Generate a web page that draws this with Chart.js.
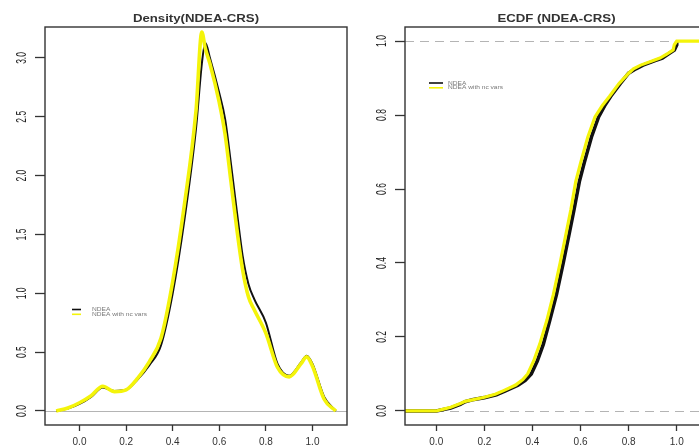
<!DOCTYPE html>
<html>
<head>
<meta charset="utf-8">
<script src="https://cdn.jsdelivr.net/npm/chart.js@4.4.1/dist/chart.umd.min.js"></script>
<style>
  html, body { margin: 0; padding: 0; background: #fff; overflow: hidden; width: 699px; height: 447px; }
  .panel { position: absolute; top: 0; height: 447px; }
  #densBox { left: 0; width: 350px; }
  #ecdfBox { left: 350px; width: 370px; }
</style>
</head>
<body>
<div class="panel" id="densBox"><canvas id="densChart"></canvas></div>
<div class="panel" id="ecdfBox"><canvas id="ecdfChart"></canvas></div>
<script>
/* =========================
   DATA
========================= */
const xTicks = [0, 0.2, 0.4, 0.6, 0.8, 1.0];
const densTicksY = [0, 0.5, 1.0, 1.5, 2.0, 2.5, 3.0];
const ecdfTicksY = [0, 0.2, 0.4, 0.6, 0.8, 1.0];

// density curves on a shared grid
const densX      = [-0.1, -0.05, 0, 0.05, 0.1, 0.15, 0.2, 0.25, 0.3, 0.35, 0.4, 0.45, 0.5, 0.525, 0.54, 0.56, 0.6, 0.625, 0.65, 0.675, 0.7, 0.725, 0.75, 0.8, 0.85, 0.9, 0.95, 0.975, 1.0, 1.05, 1.1];
const densNdea   = [0, 0.02, 0.06, 0.12, 0.2, 0.17, 0.18, 0.27, 0.39, 0.56, 1.0, 1.62, 2.4, 2.95, 3.13, 3.0, 2.7, 2.48, 2.1, 1.7, 1.32, 1.08, 0.95, 0.75, 0.4, 0.3, 0.41, 0.47, 0.4, 0.12, 0];
const densNcVars = [0, 0.025, 0.07, 0.13, 0.21, 0.165, 0.18, 0.28, 0.42, 0.62, 1.1, 1.75, 2.55, 3.22, 3.08, 2.95, 2.62, 2.35, 1.95, 1.55, 1.2, 0.97, 0.86, 0.66, 0.37, 0.29, 0.4, 0.46, 0.38, 0.1, 0];

// empirical CDFs
const ecdfNdeaX   = [-0.13, 0, 0.03, 0.06, 0.1, 0.12, 0.15, 0.2, 0.25, 0.29, 0.34, 0.37, 0.395, 0.42, 0.445, 0.472, 0.5, 0.528, 0.553, 0.573, 0.595, 0.615, 0.645, 0.675, 0.7, 0.725, 0.765, 0.8, 0.83, 0.86, 0.91, 0.94, 0.965, 0.99, 1.0, 1.0];
const ecdfNdeaF   = [0, 0, 0.004, 0.008, 0.018, 0.025, 0.03, 0.036, 0.044, 0.055, 0.07, 0.083, 0.1, 0.135, 0.18, 0.245, 0.315, 0.4, 0.48, 0.545, 0.62, 0.67, 0.74, 0.795, 0.825, 0.85, 0.885, 0.913, 0.925, 0.935, 0.947, 0.954, 0.965, 0.976, 0.99, 1.0];
const ecdfNcVarsX = [-0.13, 0, 0.03, 0.06, 0.1, 0.12, 0.15, 0.2, 0.245, 0.28, 0.33, 0.36, 0.38, 0.405, 0.43, 0.46, 0.487, 0.515, 0.54, 0.56, 0.58, 0.6, 0.63, 0.66, 0.69, 0.72, 0.76, 0.8, 0.82, 0.85, 0.9, 0.93, 0.96, 0.985, 0.99, 1.0, 1.14];
const ecdfNcVarsF = [0, 0, 0.005, 0.01, 0.02, 0.026, 0.03, 0.037, 0.045, 0.055, 0.07, 0.085, 0.1, 0.135, 0.18, 0.245, 0.315, 0.4, 0.48, 0.545, 0.62, 0.67, 0.74, 0.795, 0.825, 0.85, 0.885, 0.913, 0.925, 0.935, 0.947, 0.954, 0.965, 0.976, 0.99, 1.0, 1.0];

const seriesNames = ["NDEA", "NDEA with nc vars"];

/* =========================
   STYLE
========================= */
const FONT = "'Liberation Sans', Arial, sans-serif";
const INK = "#333";
const YELLOW = "#f4f40a";
const BLACK = "#111";

const toPoints = (xs, ys) => xs.map((x, i) => ({ x, y: ys[i] }));

// box, titles, rotated y labels, reference lines and the small legend
const framePlugin = {
  id: "frame",
  beforeDatasetsDraw(chart, args, opts) {
    const { ctx, chartArea: a, scales: { y } } = chart;
    ctx.save();
    ctx.strokeStyle = "#b4b4b4";
    ctx.lineWidth = 1;
    ctx.setLineDash(opts.refDash || []);
    opts.refLines.forEach(v => {
      const py = Math.round(y.getPixelForValue(v)) + 0.5;
      ctx.beginPath();
      ctx.moveTo(a.left, py);
      ctx.lineTo(a.right, py);
      ctx.stroke();
    });
    ctx.restore();
  },
  afterDraw(chart, args, opts) {
    const { ctx, chartArea: a, scales: { y } } = chart;
    ctx.save();

    // box
    ctx.strokeStyle = INK;
    ctx.lineWidth = 1.4;
    ctx.strokeRect(a.left, a.top, a.right - a.left, a.bottom - a.top);

    // title
    ctx.fillStyle = INK;
    ctx.textAlign = "center";
    ctx.textBaseline = "middle";
    ctx.save();
    ctx.translate((a.left + a.right) / 2, 19);
    ctx.scale(1.2, 1);
    ctx.font = `bold 11px ${FONT}`;
    ctx.fillText(opts.title, 0, 0);
    ctx.restore();

    // y tick labels, rotated like base R
    ctx.fillStyle = "#222";
    opts.yTicks.forEach(v => {
      ctx.save();
      ctx.translate(opts.labelX, y.getPixelForValue(v));
      ctx.rotate(-Math.PI / 2);
      ctx.scale(1, 1.7);
      ctx.font = `8.5px ${FONT}`;
      ctx.fillText(v.toFixed(1), 0, 0);
      ctx.restore();
    });

    // legend
    const lg = opts.legend;
    const colors = [BLACK, YELLOW];
    seriesNames.forEach((name, i) => {
      const ly = lg.y + i * 4.8;
      ctx.strokeStyle = colors[i];
      ctx.lineWidth = 1.6;
      ctx.beginPath();
      ctx.moveTo(lg.x, ly);
      ctx.lineTo(lg.x + lg.len, ly);
      ctx.stroke();
      ctx.save();
      ctx.translate(lg.x + lg.len + lg.gap, ly);
      ctx.scale(1.1, 1);
      ctx.fillStyle = "#777";
      ctx.textAlign = "left";
      ctx.font = `6px ${FONT}`;
      ctx.fillText(name, 0, 0);
      ctx.restore();
    });

    ctx.restore();
  }
};

function xScale(min, max) {
  return {
    type: "linear",
    min, max,
    afterBuildTicks: s => { s.ticks = xTicks.map(v => ({ value: v })); },
    afterFit: s => { s.height = 22; },
    grid: { drawOnChartArea: false, drawTicks: true, tickLength: 6, tickColor: INK, tickWidth: 1.3 },
    border: { display: false },
    ticks: { color: INK, font: { family: FONT, size: 10 }, padding: 5, maxRotation: 0, autoSkip: false, callback: v => v.toFixed(1) }
  };
}

function yScale(min, max, ticks, width) {
  return {
    type: "linear",
    min, max,
    afterBuildTicks: s => { s.ticks = ticks.map(v => ({ value: v })); },
    afterFit: s => { s.width = width; },
    grid: { drawOnChartArea: false, drawTicks: true, tickLength: 10, tickColor: INK, tickWidth: 1.3 },
    border: { display: false },
    ticks: { display: false }
  };
}

const common = {
  responsive: true,
  maintainAspectRatio: false,
  animation: false,
  events: [],
  parsing: false
};

/* =========================
   DENSITY
========================= */
new Chart(document.getElementById("densChart"), {
  type: "line",
  data: {
    datasets: [
      { label: seriesNames[1], data: toPoints(densX, densNcVars), borderColor: YELLOW, borderWidth: 3.6, pointRadius: 0, cubicInterpolationMode: "monotone", order: 0 },
      { label: seriesNames[0], data: toPoints(densX, densNdea), borderColor: BLACK, borderWidth: 2, pointRadius: 0, cubicInterpolationMode: "monotone", order: 1 }
    ]
  },
  options: {
    ...common,
    layout: { padding: { top: 27, right: 3, left: 0, bottom: 0 } },
    scales: {
      x: xScale(-0.148, 1.148),
      y: yScale(-0.119, 3.263, densTicksY, 45)
    },
    plugins: {
      legend: { display: false },
      tooltip: { enabled: false },
      frame: { title: "Density(NDEA-CRS)", yTicks: densTicksY, labelX: 22, refLines: [0], refDash: [], legend: { x: 72, y: 309.5, len: 9, gap: 11 } }
    }
  },
  plugins: [framePlugin]
});

/* =========================
   ECDF
========================= */
new Chart(document.getElementById("ecdfChart"), {
  type: "line",
  data: {
    datasets: [
      { label: seriesNames[1], data: toPoints(ecdfNcVarsX, ecdfNcVarsF), borderColor: YELLOW, borderWidth: 3.2, pointRadius: 0, tension: 0, order: 0 },
      { label: seriesNames[0], data: toPoints(ecdfNdeaX, ecdfNdeaF), borderColor: BLACK, borderWidth: 3.6, pointRadius: 0, tension: 0, order: 1 }
    ]
  },
  options: {
    ...common,
    layout: { padding: { top: 27, right: 12, left: 0, bottom: 0 } },
    scales: {
      x: xScale(-0.13, 1.13),
      y: yScale(-0.038, 1.038, ecdfTicksY, 55)
    },
    plugins: {
      legend: { display: false },
      tooltip: { enabled: false },
      frame: { title: "ECDF (NDEA-CRS)", yTicks: ecdfTicksY, labelX: 32, refLines: [0, 1], refDash: [9, 6], legend: { x: 79, y: 83, len: 14, gap: 5 } }
    }
  },
  plugins: [framePlugin]
});
</script>
</body>
</html>
